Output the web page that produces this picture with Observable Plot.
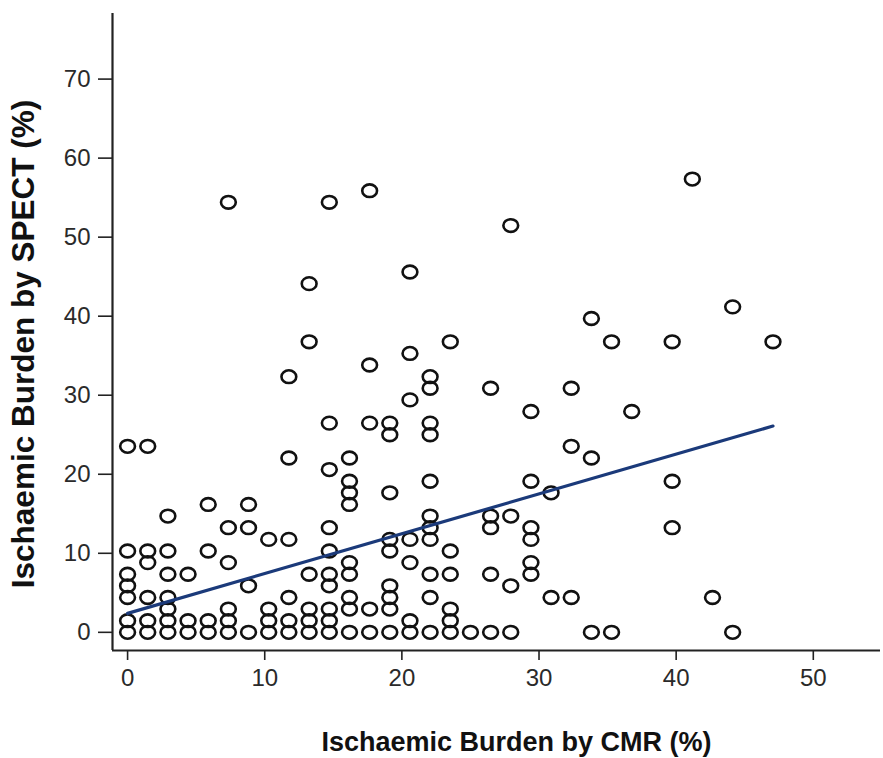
<!DOCTYPE html>
<html>
<head>
<meta charset="utf-8">
<script src="https://cdn.jsdelivr.net/npm/d3@7"></script>
<script src="https://cdn.jsdelivr.net/npm/@observablehq/plot@0.6"></script>
<style>
  html, body { margin: 0; padding: 0; background: #ffffff; }
  #chart { width: 883px; height: 758px; }
</style>
</head>
<body>
<div id="chart"></div>
<script>
// Ischaemic burden by CMR (%) — x value of each patient
const cmr = [
  0,0,0,0,0,0,0,
  1.47,1.47,1.47,1.47,1.47,1.47,
  2.94,2.94,2.94,2.94,2.94,2.94,2.94,
  4.41,4.41,4.41,
  5.88,5.88,5.88,5.88,
  7.35,7.35,7.35,7.35,7.35,7.35,
  8.82,8.82,8.82,8.82,
  10.29,10.29,10.29,10.29,
  11.76,11.76,11.76,11.76,11.76,11.76,
  13.24,13.24,13.24,13.24,13.24,13.24,
  14.71,14.71,14.71,14.71,14.71,14.71,14.71,14.71,14.71,14.71,
  16.18,16.18,16.18,16.18,16.18,16.18,16.18,16.18,16.18,
  17.65,17.65,17.65,17.65,17.65,
  19.12,19.12,19.12,19.12,19.12,19.12,19.12,19.12,19.12,
  20.59,20.59,20.59,20.59,20.59,20.59,20.59,
  22.06,22.06,22.06,22.06,22.06,22.06,22.06,22.06,22.06,22.06,22.06,
  23.53,23.53,23.53,23.53,23.53,23.53,
  25.0,
  26.47,26.47,26.47,26.47,26.47,
  27.94,27.94,27.94,27.94,
  29.41,29.41,29.41,29.41,29.41,29.41,
  30.88,30.88,
  32.35,32.35,32.35,
  33.82,33.82,33.82,
  35.29,35.29,
  36.76,
  39.71,39.71,39.71,
  41.18,
  42.65,
  44.12,44.12,
  47.06
];
// Ischaemic burden by SPECT (%) — y value of each patient
const spect = [
  0,1.47,4.41,5.88,7.35,10.29,23.53,
  0,1.47,4.41,8.82,10.29,23.53,
  0,1.47,2.94,4.41,7.35,10.29,14.71,
  0,1.47,7.35,
  0,1.47,10.29,16.18,
  0,1.47,2.94,8.82,13.24,54.41,
  0,5.88,13.24,16.18,
  0,1.47,2.94,11.76,
  0,1.47,4.41,11.76,22.06,32.35,
  0,1.47,2.94,7.35,36.76,44.12,
  0,1.47,2.94,5.88,7.35,10.29,13.24,20.59,26.47,54.41,
  0,2.94,4.41,7.35,8.82,16.18,17.65,19.12,22.06,
  0,2.94,26.47,33.82,55.88,
  0,2.94,4.41,5.88,10.29,11.76,17.65,25.0,26.47,
  0,1.47,8.82,11.76,29.41,35.29,45.59,
  0,4.41,7.35,11.76,13.24,14.71,19.12,25.0,26.47,30.88,32.35,
  0,1.47,2.94,7.35,10.29,36.76,
  0,
  0,7.35,13.24,14.71,30.88,
  0,5.88,14.71,51.47,
  7.35,8.82,11.76,13.24,19.12,27.94,
  4.41,17.65,
  4.41,23.53,30.88,
  0,22.06,39.71,
  0,36.76,
  27.94,
  13.24,19.12,36.76,
  57.35,
  4.41,
  0,41.18,
  36.76
];
// fitted regression line end points
const fitX = [0, 47.06];
const fitY = [2.4, 26.1];

const xTicks = [0, 10, 20, 30, 40, 50];
const yTicks = [0, 10, 20, 30, 40, 50, 60, 70];
const xTitle = "Ischaemic Burden by CMR (%)";
const yTitle = "Ischaemic Burden by SPECT (%)";

const xDomain = [-1.1, 54.9];
const yDomain = [-2.3, 78.3];

const points = cmr.map((x, i) => ({x, y: spect[i]}));
const fit = fitX.map((x, i) => ({x, y: fitY[i]}));

// slightly flattened ring marker, as in the figure
const ring = {
  draw(context, size) {
    const r = Math.sqrt(size / Math.PI);
    const rx = r, ry = r * 0.86, k = 0.5523;
    context.moveTo(rx, 0);
    context.bezierCurveTo(rx, ry * k, rx * k, ry, 0, ry);
    context.bezierCurveTo(-rx * k, ry, -rx, ry * k, -rx, 0);
    context.bezierCurveTo(-rx, -ry * k, -rx * k, -ry, 0, -ry);
    context.bezierCurveTo(rx * k, -ry, rx, -ry * k, rx, 0);
    context.closePath();
  }
};

const font = "'Liberation Sans', Arial, Helvetica, sans-serif";

const chart = Plot.plot({
  width: 883,
  height: 758,
  marginLeft: 112,
  marginRight: 3,
  marginTop: 13,
  marginBottom: 108,
  x: {domain: xDomain},
  y: {domain: yDomain},
  style: {fontFamily: font, fontSize: "24px", background: "#ffffff", overflow: "visible"},
  marks: [
    Plot.axisY({ticks: yTicks, tickSize: 14, tickPadding: 8, tickFormat: d => String(d),
      label: null, stroke: "#222", strokeWidth: 1.6, fill: "#2a2a2a", fontSize: 24}),
    Plot.axisX({ticks: xTicks, tickSize: 10, tickPadding: 8, tickFormat: d => String(d),
      label: null, stroke: "#222", strokeWidth: 1.6, fill: "#2a2a2a", fontSize: 24}),
    Plot.ruleX([xDomain[0]], {stroke: "#222", strokeWidth: 2.2}),
    Plot.ruleY([yDomain[0]], {stroke: "#222", strokeWidth: 2.2}),
    Plot.dot(points, {x: "x", y: "y", r: 7.4, symbol: ring, stroke: "#111", strokeWidth: 2.6, fill: "none"}),
    Plot.line(fit, {x: "x", y: "y", stroke: "#1b3a7a", strokeWidth: 3.2}),
    Plot.text([xTitle], {frameAnchor: "bottom", textAnchor: "middle", lineAnchor: "middle",
      dx: 20, dy: 92, fontSize: 27, fontWeight: "bold", fill: "#111"}),
    Plot.text([yTitle], {frameAnchor: "left", textAnchor: "middle", lineAnchor: "middle",
      dx: -89, dy: 12, rotate: -90, fontSize: 31.5, fontWeight: "bold", fill: "#111"})
  ]
});

document.getElementById("chart").appendChild(chart);
</script>
</body>
</html>
